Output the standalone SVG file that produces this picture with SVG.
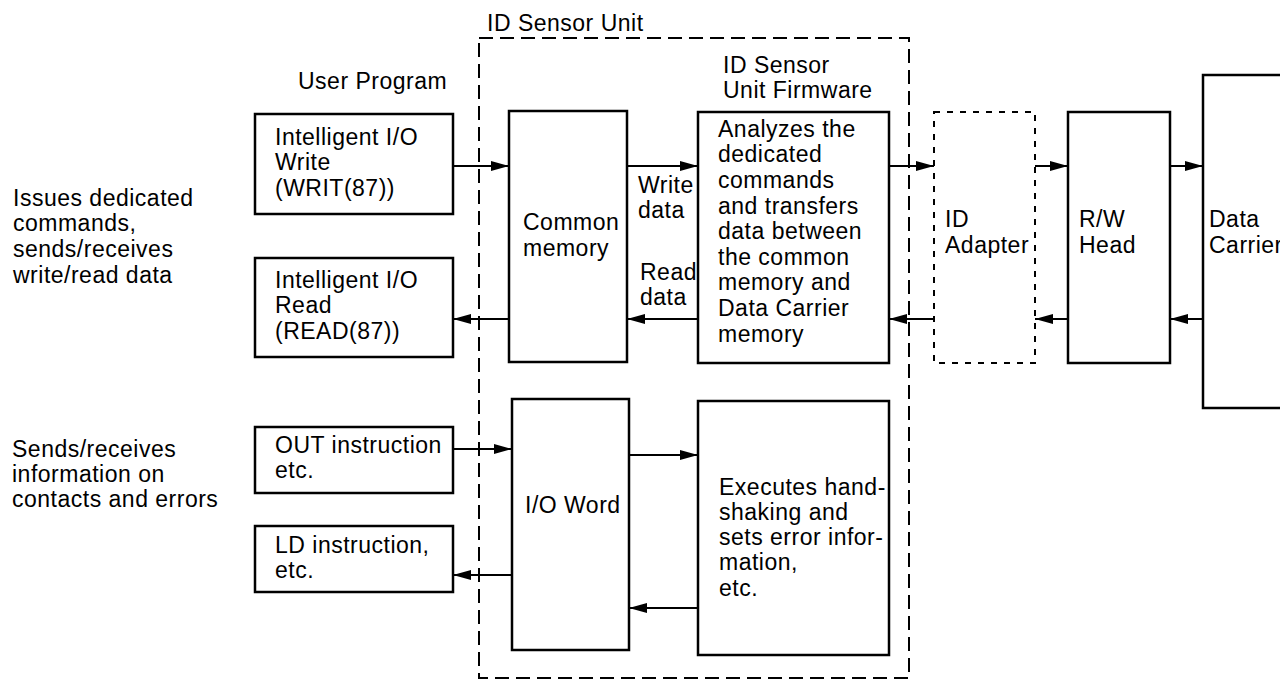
<svg xmlns="http://www.w3.org/2000/svg" width="1280" height="682" viewBox="0 0 1280 682">
<style>
  text { font-family: "Liberation Sans", Arial, Helvetica, sans-serif; font-size: 23px; letter-spacing: 0.5px; fill: #000; }
  .box { fill: #fff; stroke: #000; stroke-width: 2.5; }
  .dotted { fill: none; stroke: #000; stroke-width: 2; stroke-dasharray: 6 7; }
  .outer { fill: none; stroke: #000; stroke-width: 2; stroke-dasharray: 14 7; }
  .conn { fill: none; stroke: #000; stroke-width: 2.2; marker-end: url(#arrow); }
</style>
<defs>
  <marker id="arrow" markerUnits="userSpaceOnUse" markerWidth="19" markerHeight="12" refX="18" refY="6" orient="auto">
    <path d="M0,1 L18,6 L0,11 z" fill="#000"/>
  </marker>
</defs>
<rect width="1280" height="682" fill="#fff"/>

<g id="side-labels">
  <text x="13" y="206">Issues dedicated</text>
  <text x="13" y="231">commands,</text>
  <text x="13" y="257">sends/receives</text>
  <text x="13" y="283">write/read data</text>
  <text x="12" y="457">Sends/receives</text>
  <text x="12" y="482">information on</text>
  <text x="12" y="507">contacts and errors</text>
  <text x="298" y="89">User Program</text>
</g>

<g id="id-sensor-unit">
  <rect class="outer" x="479" y="38" width="430" height="640"/>
  <text x="487" y="31">ID Sensor Unit</text>
  <text x="723" y="73">ID Sensor</text>
  <text x="723" y="98">Unit Firmware</text>
</g>

<g id="write-box">
  <rect class="box" x="255" y="114" width="198" height="100"/>
  <text x="275" y="145">Intelligent I/O</text>
  <text x="275" y="170">Write</text>
  <text x="275" y="196">(WRIT(87))</text>
</g>

<g id="read-box">
  <rect class="box" x="255" y="258" width="198" height="99"/>
  <text x="275" y="288">Intelligent I/O</text>
  <text x="275" y="313">Read</text>
  <text x="275" y="339">(READ(87))</text>
</g>

<g id="out-box">
  <rect class="box" x="255" y="427" width="198" height="66"/>
  <text x="275" y="453">OUT instruction</text>
  <text x="275" y="478">etc.</text>
</g>

<g id="ld-box">
  <rect class="box" x="255" y="526" width="198" height="66"/>
  <text x="275" y="553">LD instruction,</text>
  <text x="275" y="578">etc.</text>
</g>

<g id="common-memory">
  <rect class="box" x="509" y="111" width="118" height="251"/>
  <text x="523" y="230">Common</text>
  <text x="523" y="256">memory</text>
</g>

<g id="io-word">
  <rect class="box" x="512" y="399" width="117" height="251"/>
  <text x="525" y="513">I/O Word</text>
</g>

<g id="firmware-box">
  <rect class="box" x="698" y="112" width="191" height="251"/>
  <text x="718" y="137">Analyzes the</text>
  <text x="718" y="162">dedicated</text>
  <text x="718" y="188">commands</text>
  <text x="718" y="214">and transfers</text>
  <text x="718" y="239">data between</text>
  <text x="718" y="265">the common</text>
  <text x="718" y="290">memory and</text>
  <text x="718" y="316">Data Carrier</text>
  <text x="718" y="342">memory</text>
</g>

<g id="execute-box">
  <rect class="box" x="698" y="401" width="191" height="254"/>
  <text x="719" y="495">Executes hand-</text>
  <text x="719" y="520">shaking and</text>
  <text x="719" y="545">sets error infor-</text>
  <text x="719" y="570">mation,</text>
  <text x="719" y="596">etc.</text>
</g>

<g id="id-adapter">
  <rect class="dotted" x="934" y="112" width="101" height="251"/>
  <text x="945" y="227">ID</text>
  <text x="945" y="253">Adapter</text>
</g>

<g id="rw-head">
  <rect class="box" x="1068" y="112" width="102" height="251"/>
  <text x="1079" y="227">R/W</text>
  <text x="1079" y="253">Head</text>
</g>

<g id="data-carrier">
  <rect class="box" x="1203" y="75" width="100" height="333"/>
  <text x="1209" y="227">Data</text>
  <text x="1209" y="253">Carrier</text>
</g>

<g id="data-labels">
  <text x="638" y="193">Write</text>
  <text x="638" y="218">data</text>
  <text x="640" y="280">Read</text>
  <text x="640" y="305">data</text>
</g>

<g id="connectors">
  <line class="conn" x1="453" y1="166" x2="509" y2="166"/>
  <line class="conn" x1="509" y1="319" x2="453" y2="319"/>
  <line class="conn" x1="627" y1="166" x2="698" y2="166"/>
  <line class="conn" x1="698" y1="319" x2="627" y2="319"/>
  <line class="conn" x1="889" y1="166" x2="934" y2="166"/>
  <line class="conn" x1="934" y1="319" x2="889" y2="319"/>
  <line class="conn" x1="1035" y1="166" x2="1068" y2="166"/>
  <line class="conn" x1="1068" y1="319" x2="1035" y2="319"/>
  <line class="conn" x1="1170" y1="166" x2="1203" y2="166"/>
  <line class="conn" x1="1203" y1="319" x2="1170" y2="319"/>
  <line class="conn" x1="454" y1="449" x2="512" y2="449"/>
  <line class="conn" x1="512" y1="575" x2="453" y2="575"/>
  <line class="conn" x1="630" y1="455" x2="698" y2="455"/>
  <line class="conn" x1="698" y1="608" x2="629" y2="608"/>
</g>
</svg>
